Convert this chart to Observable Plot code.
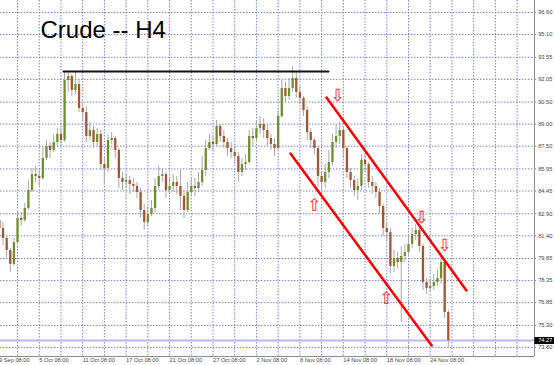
<!DOCTYPE html>
<html>
<head>
<meta charset="utf-8">
<script src="https://cdn.jsdelivr.net/npm/d3@7"></script>
<script src="https://cdn.jsdelivr.net/npm/@observablehq/plot@0.6"></script>
<style>
  html, body { margin: 0; padding: 0; background: #fff; }
  #chart svg { display: block; }
</style>
</head>
<body>
<div id="chart"></div>
<script>
// H4 candles, bar 1 .. 125 (open of each bar = close of the previous one)
const firstOpen = 82.44;
const closes = [
  81.90, 81.22, 80.40, 79.45, 80.94, 82.58, 82.44, 83.26, 84.48, 85.57,
  85.44, 85.30, 86.66, 87.48, 87.21, 87.75, 88.30, 87.89, 91.97, 92.24,
  91.29, 91.70, 90.07, 89.79, 88.16, 88.57, 87.75, 88.30, 86.25, 85.98,
  87.89, 88.02, 87.21, 85.30, 85.03, 85.16, 84.89, 84.76, 84.35, 83.12,
  82.31, 82.85, 83.26, 84.76, 85.44, 85.57, 84.48, 84.76, 85.03, 84.76,
  84.08, 83.12, 84.35, 84.76, 84.62, 85.03, 85.85, 87.34, 87.75, 87.62,
  88.84, 88.16, 87.75, 87.34, 87.07, 86.80, 85.71, 86.25, 86.39, 88.16,
  88.02, 88.70, 88.98, 88.57, 88.02, 87.62, 87.34, 89.52, 91.43, 90.88,
  91.43, 92.11, 91.15, 90.75, 89.93, 88.43, 87.89, 87.34, 85.44, 85.03,
  85.71, 86.39, 87.75, 88.16, 88.57, 87.34, 85.71, 85.16, 84.48, 84.76,
  86.53, 86.25, 85.03, 84.76, 84.35, 83.39, 81.90, 81.62, 79.31, 79.86,
  79.58, 79.99, 80.26, 80.81, 81.49, 81.76, 80.67, 78.22, 77.81, 77.95,
  78.22, 78.49, 79.58, 76.18, 74.27
];
const highs = [
  82.58, 82.31, 81.35, 80.54, 81.22, 83.12, 82.99, 83.60, 85.16, 85.98,
  86.12, 85.85, 87.48, 87.89, 87.75, 88.30, 88.70, 88.70, 92.52, 92.52,
  92.38, 92.52, 91.97, 90.34, 90.20, 89.11, 88.84, 88.70, 88.57, 86.80,
  88.30, 88.43, 88.16, 87.34, 85.71, 85.57, 85.44, 85.30, 85.03, 84.62,
  83.53, 83.39, 83.80, 85.30, 86.12, 85.98, 85.71, 85.30, 85.57, 85.44,
  85.85, 84.48, 85.03, 85.30, 85.30, 85.71, 86.80, 87.89, 88.30, 88.16,
  89.25, 88.98, 88.57, 88.02, 87.75, 87.48, 87.07, 86.66, 86.93, 88.57,
  88.70, 89.25, 89.52, 89.38, 88.98, 88.30, 88.02, 89.93, 91.97, 91.84,
  92.11, 92.92, 92.52, 91.56, 90.88, 90.20, 88.70, 88.02, 87.48, 85.71,
  86.25, 87.21, 88.30, 88.98, 89.11, 88.84, 87.48, 85.98, 85.44, 85.30,
  86.93, 86.93, 86.39, 85.44, 85.03, 84.62, 83.53, 82.31, 81.90, 80.40,
  80.26, 80.67, 80.81, 81.49, 81.90, 82.17, 82.03, 80.81, 78.49, 78.49,
  78.77, 79.04, 79.99, 79.58, 76.32
];
const lows = [
  81.42, 80.74, 79.86, 78.90, 79.31, 80.81, 82.03, 82.31, 83.12, 84.35,
  85.03, 84.76, 85.16, 86.53, 86.66, 87.07, 87.48, 87.48, 87.75, 91.15,
  90.88, 91.02, 89.79, 89.25, 87.75, 87.89, 87.34, 87.48, 85.85, 84.89,
  85.71, 87.62, 86.66, 84.62, 84.48, 84.62, 84.21, 84.35, 83.94, 82.58,
  81.76, 82.03, 82.71, 82.99, 84.48, 85.03, 83.94, 84.21, 84.35, 84.21,
  83.12, 82.58, 82.99, 84.08, 84.08, 84.35, 84.76, 85.44, 87.21, 87.21,
  87.48, 87.75, 87.34, 86.80, 86.66, 86.25, 85.03, 85.44, 85.85, 86.25,
  87.48, 87.75, 88.30, 88.02, 87.48, 87.21, 86.80, 87.21, 89.38, 90.47,
  90.61, 91.15, 90.75, 90.34, 89.52, 87.89, 87.34, 86.93, 84.76, 84.35,
  84.62, 85.30, 86.12, 87.34, 87.62, 86.66, 85.30, 84.62, 84.08, 83.80,
  84.48, 85.71, 84.62, 84.21, 83.94, 82.85, 81.35, 81.08, 78.77, 78.90,
  79.17, 75.50, 79.58, 79.99, 80.54, 81.08, 80.26, 77.68, 77.40, 77.54,
  77.68, 77.95, 78.09, 75.77, 73.73
];

// price scale labels (right) and date labels (bottom)
const priceTicks = [96.60, 95.10, 93.55, 92.05, 90.50, 89.00, 87.50, 85.95,
                    84.45, 82.90, 81.40, 79.85, 78.35, 76.85, 75.30, 73.80];
const gridBars = d3.range(0, 150, 6);
const dateLabelBars = [0, 12, 24, 36, 48, 60, 72, 84, 96, 108, 120];
const dateLabels = ["29 Sep 08:00", "5 Oct 08:00", "11 Oct 08:00", "17 Oct 08:00",
                    "21 Oct 08:00", "27 Oct 08:00", "2 Nov 08:00", "8 Nov 08:00",
                    "14 Nov 08:00", "18 Nov 08:00", "24 Nov 08:00"];
const lastPrice = 74.27;

// drawn trend lines: [bar, price] end points
const resistance = [[18.7, 92.58], [91.9, 92.58]];
const channelUpper = [[91.35, 90.81], [130.0, 77.68]];
const channelLower = [[81.4, 87.00], [120.4, 73.93]];
// arrow markers: bar, price, direction
const arrowBars   = [94.4, 88.0, 117.6, 124.0, 107.9];
const arrowPrices = [90.95, 83.46, 82.65, 80.74, 77.13];
const arrowDirs   = ["down", "up", "down", "down", "up"];

const candles = closes.map((c, k) => ({
  bar: k + 1,
  open: k === 0 ? firstOpen : closes[k - 1],
  close: c,
  high: highs[k],
  low: lows[k]
}));
const arrows = arrowBars.map((b, k) => ({bar: b, price: arrowPrices[k], dir: arrowDirs[k]}));

const xMin = 1.298, xMax = 148.81;
const yMin = 73.183, yMax = 97.417;
const gridColor = "#7f7fd6";
const axisColor = "#8c8c8c";
const labelColor = "#444";

const chart = Plot.plot({
  width: 554,
  height: 365,
  marginTop: 0,
  marginLeft: 0,
  marginRight: 20,
  marginBottom: 9,
  style: {fontFamily: "Liberation Sans, Arial, sans-serif", background: "#fff"},
  x: {domain: [xMin, xMax], axis: null},
  y: {domain: [yMin, yMax], axis: null},
  marks: [
    // dotted grid
    Plot.ruleX(gridBars.filter(b => b > xMin), {x: d => d, stroke: gridColor, strokeDasharray: "1.5,1.5", strokeWidth: 1}),
    Plot.ruleY(priceTicks, {y: d => d, stroke: gridColor, strokeDasharray: "1.5,1.5", strokeWidth: 1}),
    // bid line
    Plot.ruleY([lastPrice], {y: d => d, stroke: "#b9b9ee", strokeWidth: 2}),
    // candles
    Plot.ruleX(candles, {x: "bar", y1: "low", y2: "high", stroke: "#a9a9a9", strokeWidth: 1}),
    Plot.ruleX(candles, {
      x: "bar", y1: "open", y2: "close",
      stroke: d => d.close >= d.open ? "#6e8f2c" : "#a4552f",
      strokeWidth: 2.3
    }),
    // horizontal resistance
    Plot.line(resistance, {x: d => d[0], y: d => d[1], stroke: "#111", strokeWidth: 2}),
    // descending channel
    Plot.line(channelUpper, {x: d => d[0], y: d => d[1], stroke: "#ff0000", strokeWidth: 2.5}),
    Plot.line(channelLower, {x: d => d[0], y: d => d[1], stroke: "#ff0000", strokeWidth: 2.5}),
    // arrows
    Plot.text(arrows, {
      x: "bar", y: "price",
      text: d => d.dir === "down" ? "\u21E9" : "\u21E7",
      fill: "#ff2020", fontSize: 17, fontFamily: "DejaVu Sans"
    }),
    // title
    Plot.text(["Crude -- H4"], {
      frameAnchor: "top-left", dx: 40, dy: 37, lineAnchor: "bottom", textAnchor: "start",
      fontSize: 24, fill: "#000"
    }),
    // price scale
    Plot.ruleX([xMax], {x: d => d, stroke: axisColor, strokeWidth: 1}),
    Plot.ruleY(priceTicks, {y: d => d, x1: xMax, x2: xMax + 0.6, stroke: axisColor}),
    Plot.text(priceTicks, {
      y: d => d, frameAnchor: "right", dx: 3.7, textAnchor: "start",
      text: d => d.toFixed(2), fontSize: 5.7, fill: labelColor
    }),
    // last price tag
    Plot.ruleY([lastPrice], {y: d => d, x1: xMax + 0.1, x2: xMax + 5.6, stroke: "#000", strokeWidth: 7}),
    Plot.text([lastPrice], {
      y: d => d, frameAnchor: "right", dx: 3.7, textAnchor: "start",
      text: d => d.toFixed(2), fontSize: 5.7, fill: "#fff"
    }),
    // time scale
    Plot.ruleY([yMin], {y: d => d, stroke: axisColor, strokeWidth: 1}),
    Plot.text(dateLabelBars, {
      x: d => d, frameAnchor: "bottom", dy: 5.5, textAnchor: "start",
      text: (d, k) => dateLabels[k], fontSize: 5.7, fill: labelColor
    })
  ]
});
document.getElementById("chart").appendChild(chart);
</script>
</body>
</html>
